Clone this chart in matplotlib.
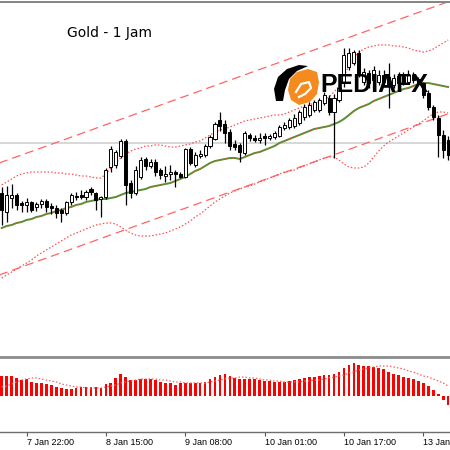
import matplotlib
matplotlib.use('Agg')
import matplotlib.pyplot as plt
import numpy as np
from matplotlib.patches import Polygon

# hourly gold candles, one per bar (prices)
opens = [1540.7, 1538.8, 1540.2, 1540.5, 1539.7, 1539.5, 1539.8, 1539.3, 1539.6, 1539.9,
         1539.4, 1539.2, 1539.0, 1538.7, 1539.8, 1540.4, 1540.5, 1540.3, 1541.1, 1540.7,
         1540.1, 1540.3, 1543.3, 1543.5, 1544.4, 1545.9, 1541.7, 1540.7, 1542.3, 1544.1,
         1543.4, 1543.8, 1543.0, 1542.4, 1542.6, 1542.8, 1542.6, 1542.3, 1545.1, 1543.5,
         1544.4, 1544.5, 1545.4, 1546.1, 1548.0, 1547.6, 1546.8, 1545.6, 1545.5, 1544.7,
         1546.5, 1546.2, 1546.0, 1546.4, 1546.2, 1546.3, 1546.4, 1547.2, 1547.3, 1547.4,
         1547.7, 1548.3, 1548.5, 1549.0, 1549.0, 1549.7, 1550.2, 1548.8, 1550.0, 1551.7,
         1553.3, 1553.7, 1554.7, 1551.8, 1552.7, 1552.0, 1551.8, 1552.5, 1552.3, 1551.5,
         1551.7, 1552.4, 1551.8, 1552.5, 1552.1, 1551.7, 1550.7, 1549.3, 1548.2, 1546.5,
         1546.0]
highs = [1541.3, 1541.4, 1541.6, 1540.7, 1539.9, 1540.2, 1539.9, 1539.8, 1540.1, 1540.1,
         1539.7, 1539.5, 1539.2, 1539.9, 1540.7, 1540.8, 1541.0, 1541.0, 1541.3, 1540.8,
         1540.4, 1543.2, 1545.4, 1545.0, 1546.1, 1546.1, 1542.0, 1543.4, 1544.3, 1544.3,
         1544.1, 1544.1, 1543.2, 1543.4, 1543.5, 1543.0, 1542.8, 1545.2, 1545.3, 1544.8,
         1545.0, 1545.6, 1546.5, 1547.8, 1548.8, 1548.0, 1547.1, 1546.0, 1545.7, 1546.9,
         1546.7, 1546.5, 1546.7, 1546.7, 1546.6, 1546.9, 1547.5, 1547.8, 1548.2, 1548.6,
         1549.0, 1549.6, 1549.8, 1550.0, 1550.2, 1550.8, 1550.5, 1550.6, 1551.5, 1555.2,
         1555.2, 1555.0, 1555.0, 1553.2, 1553.0, 1553.4, 1553.0, 1553.0, 1553.7, 1552.6,
         1552.8, 1552.8, 1553.0, 1552.8, 1552.3, 1551.8, 1551.0, 1549.5, 1548.5, 1547.0,
         1546.4]
lows = [1537.5, 1537.8, 1539.2, 1539.0, 1538.8, 1538.8, 1538.8, 1538.9, 1539.2, 1538.8,
        1538.6, 1538.2, 1537.8, 1538.5, 1539.5, 1540.0, 1540.1, 1540.0, 1540.5, 1539.0,
        1538.3, 1540.1, 1542.8, 1543.2, 1544.2, 1539.5, 1540.2, 1540.5, 1542.1, 1543.0,
        1543.2, 1542.4, 1542.1, 1541.8, 1542.0, 1541.3, 1542.2, 1542.2, 1543.5, 1543.3,
        1544.2, 1544.3, 1545.2, 1546.0, 1546.9, 1545.7, 1545.0, 1545.0, 1543.8, 1544.5,
        1545.9, 1545.8, 1545.7, 1545.5, 1546.0, 1546.1, 1546.3, 1547.0, 1547.1, 1547.2,
        1547.5, 1548.0, 1548.3, 1548.8, 1548.8, 1549.5, 1548.5, 1544.2, 1549.8, 1551.3,
        1553.0, 1553.5, 1552.3, 1551.5, 1551.2, 1551.7, 1551.5, 1551.4, 1549.2, 1551.2,
        1551.4, 1551.5, 1551.6, 1551.7, 1551.5, 1550.2, 1549.0, 1548.0, 1544.3, 1544.2,
        1544.0]
closes = [1539.0, 1540.5, 1540.5, 1539.5, 1539.5, 1539.8, 1539.0, 1539.6, 1539.9, 1539.3,
          1539.2, 1538.7, 1538.7, 1539.8, 1540.5, 1540.3, 1540.3, 1540.8, 1540.8, 1540.0,
          1540.3, 1543.0, 1545.1, 1544.8, 1545.9, 1541.5, 1540.7, 1543.0, 1544.0, 1543.4,
          1543.8, 1542.8, 1542.5, 1542.6, 1542.8, 1542.6, 1542.3, 1545.1, 1543.7, 1544.5,
          1544.6, 1545.4, 1546.3, 1547.6, 1547.4, 1546.7, 1545.4, 1545.3, 1544.8, 1546.7,
          1546.2, 1546.0, 1546.2, 1546.2, 1546.4, 1546.7, 1547.3, 1547.5, 1548.0, 1548.2,
          1548.8, 1549.3, 1549.5, 1549.8, 1550.0, 1550.5, 1548.8, 1550.2, 1551.2, 1554.5,
          1554.7, 1554.8, 1552.5, 1552.8, 1551.7, 1553.0, 1552.5, 1551.8, 1551.5, 1552.2,
          1552.4, 1551.8, 1552.5, 1552.0, 1551.7, 1550.5, 1549.3, 1548.3, 1546.5, 1545.0,
          1544.5]

# moving average and bands
ma_line = [1537.2, 1537.4, 1537.5, 1537.7, 1537.8, 1538.0, 1538.1, 1538.3, 1538.4, 1538.6,
           1538.7, 1538.9, 1539.0, 1539.2, 1539.3, 1539.5, 1539.6, 1539.8, 1539.9, 1540.0,
           1540.1, 1540.1, 1540.2, 1540.3, 1540.5, 1540.7, 1540.8, 1540.9, 1541.0, 1541.1,
           1541.3, 1541.4, 1541.5, 1541.6, 1541.7, 1541.9, 1542.1, 1542.3, 1542.6, 1542.9,
           1543.1, 1543.4, 1543.7, 1543.9, 1544.0, 1544.1, 1544.2, 1544.2, 1544.1, 1544.3,
           1544.5, 1544.7, 1544.8, 1545.0, 1545.2, 1545.4, 1545.7, 1545.9, 1546.1, 1546.3,
           1546.5, 1546.7, 1546.9, 1547.1, 1547.2, 1547.3, 1547.4, 1547.6, 1547.8, 1548.1,
           1548.5, 1548.9, 1549.2, 1549.4, 1549.6, 1549.9, 1550.1, 1550.3, 1550.5, 1550.7,
           1550.9, 1551.1, 1551.2, 1551.4, 1551.6, 1551.7, 1551.7, 1551.6, 1551.5, 1551.4,
           1551.3]
band_upper = [1541.5, 1541.8, 1542.1, 1542.4, 1542.6, 1542.7, 1542.8, 1542.8, 1542.8, 1542.8,
              1542.8, 1542.7, 1542.7, 1542.6, 1542.6, 1542.5, 1542.4, 1542.4, 1542.3, 1542.2,
              1542.2, 1542.6, 1543.2, 1543.7, 1544.2, 1544.6, 1544.9, 1545.1, 1545.2, 1545.4,
              1545.4, 1545.5, 1545.5, 1545.4, 1545.3, 1545.3, 1545.4, 1545.5, 1545.6, 1545.8,
              1545.9, 1546.2, 1546.5, 1546.8, 1547.0, 1547.1, 1547.3, 1547.5, 1547.7, 1547.9,
              1548.0, 1548.1, 1548.2, 1548.3, 1548.4, 1548.5, 1548.5, 1548.6, 1548.8, 1549.0,
              1549.2, 1549.4, 1549.5, 1549.7, 1549.8, 1550.0, 1550.3, 1550.8, 1551.4, 1552.4,
              1553.4, 1554.2, 1554.8, 1555.1, 1555.3, 1555.4, 1555.5, 1555.5, 1555.5, 1555.4,
              1555.4, 1555.3, 1555.2, 1555.0, 1554.9, 1554.8, 1554.9, 1555.1, 1555.4, 1555.7,
              1556.0]
band_lower = [1532.2, 1532.5, 1532.8, 1533.1, 1533.4, 1533.7, 1534.0, 1534.4, 1534.7, 1535.0,
              1535.3, 1535.6, 1535.9, 1536.2, 1536.5, 1536.7, 1536.9, 1537.1, 1537.3, 1537.5,
              1537.6, 1537.7, 1537.7, 1537.6, 1537.3, 1537.0, 1536.7, 1536.5, 1536.4, 1536.4,
              1536.4, 1536.5, 1536.6, 1536.7, 1536.9, 1537.1, 1537.3, 1537.6, 1537.9, 1538.3,
              1538.6, 1539.0, 1539.4, 1539.8, 1540.1, 1540.4, 1540.7, 1540.9, 1541.1, 1541.3,
              1541.4, 1541.6, 1541.8, 1542.0, 1542.2, 1542.4, 1542.6, 1542.8, 1542.9, 1543.0,
              1543.2, 1543.4, 1543.6, 1543.8, 1544.0, 1544.2, 1544.3, 1544.3, 1544.0, 1543.6,
              1543.3, 1543.2, 1543.2, 1543.3, 1543.7, 1544.3, 1544.9, 1545.4, 1545.8, 1546.1,
              1546.4, 1546.7, 1547.0, 1547.3, 1547.6, 1547.9, 1548.3, 1548.6, 1548.8, 1548.8,
              1548.7]

# trend channel end points (bar index, price)
chan_x = [-0.5, 91.0]
chan_upper = [1543.7, 1560.0]
chan_lower = [1532.5, 1548.8]
level_price = 1545.7

# MACD panel
macd_hist = [2.0, 2.0, 2.0, 1.8, 1.6, 1.7, 1.4, 1.3, 1.3, 1.2,
             1.1, 0.9, 0.8, 0.7, 0.7, 0.8, 0.9, 0.9, 0.9, 0.9,
             0.8, 1.2, 1.3, 1.8, 2.2, 1.9, 1.6, 1.6, 1.7, 1.7,
             1.7, 1.6, 1.4, 1.3, 1.3, 1.1, 1.3, 1.3, 1.3, 1.3,
             1.3, 1.4, 1.7, 1.9, 2.1, 2.2, 2.0, 1.8, 1.7, 1.7,
             1.7, 1.7, 1.6, 1.5, 1.5, 1.4, 1.4, 1.4, 1.5, 1.6,
             1.7, 1.8, 1.9, 1.9, 2.0, 2.1, 2.1, 2.2, 2.4, 2.8,
             3.1, 3.3, 3.1, 3.0, 3.0, 2.9, 2.8, 2.7, 2.4, 2.2,
             2.1, 1.9, 1.8, 1.7, 1.5, 1.3, 1.0, 0.6, 0.2, -0.4,
             -0.9]
macd_signal = [0.9, 1.0, 1.2, 1.4, 1.6, 1.7, 1.8, 1.8, 1.7, 1.6,
               1.5, 1.4, 1.2, 1.1, 1.0, 0.9, 0.9, 0.8, 0.8, 0.8,
               0.8, 0.9, 1.0, 1.1, 1.3, 1.4, 1.5, 1.6, 1.7, 1.7,
               1.7, 1.7, 1.6, 1.6, 1.5, 1.4, 1.4, 1.3, 1.3, 1.3,
               1.3, 1.3, 1.4, 1.5, 1.6, 1.7, 1.8, 1.8, 1.9, 1.9,
               1.8, 1.8, 1.7, 1.6, 1.6, 1.5, 1.5, 1.4, 1.4, 1.4,
               1.4, 1.5, 1.5, 1.6, 1.6, 1.7, 1.8, 1.9, 2.0, 2.1,
               2.3, 2.4, 2.6, 2.7, 2.8, 2.9, 3.0, 3.0, 3.0, 2.9,
               2.8, 2.7, 2.5, 2.4, 2.2, 2.0, 1.9, 1.7, 1.5, 1.3,
               1.0]

tick_bars = [5, 21, 37, 53, 69, 85]
tick_labels = ['7 Jan 22:00', '8 Jan 15:00', '9 Jan 08:00', '10 Jan 01:00', '10 Jan 17:00', '13 Jan 09:00']

bars = np.arange(len(opens))
o, h, l, c = map(np.array, (opens, highs, lows, closes))
up = c >= o

fig = plt.figure(figsize=(4.5, 4.5), dpi=100)
fig.patch.set_facecolor('white')
xlim = (-0.343, 90.38)

# price panel
ax = fig.add_axes([0, 1 - 355 / 450, 1, 352 / 450])
ax.set_xlim(*xlim)
ax.set_ylim(1524.5, 1559.7)
ax.axis('off')
ax.axhline(level_price, color='#d4d4d4', lw=1.3, zorder=1)
ax.plot(chan_x, chan_upper, color='#ff6464', lw=0.9, dashes=(7, 4), zorder=2)
ax.plot(chan_x, chan_lower, color='#ff6464', lw=0.9, dashes=(7, 4), zorder=2)
ax.plot(bars, band_upper, color='#ff5050', lw=0.9, ls=(0, (1.2, 1.6)), zorder=2)
ax.plot(bars, band_lower, color='#ff5050', lw=0.9, ls=(0, (1.2, 1.6)), zorder=2)
ax.plot(bars, ma_line, color='#4f9431', lw=1.4, zorder=3)
ax.plot(bars, ma_line, color='#ff4040', lw=0.7, ls=(0, (1, 2.2)), zorder=3)
ax.vlines(bars, l, h, color='black', lw=0.9, zorder=4)
ax.bar(bars, np.maximum(np.abs(c - o), 0.08), bottom=np.minimum(o, c), width=0.62,
       color=np.where(up, 'white', 'black'), edgecolor='black', lw=0.7, zorder=5)

# MACD panel
ax2 = fig.add_axes([0, 18 / 450, 1, 74 / 450])
ax2.set_xlim(*xlim)
ax2.set_ylim(-3.6, 3.8)
ax2.bar(bars, macd_hist, width=0.55, color='#ff0000', lw=0)
ax2.plot(bars, macd_signal, color='#ff6060', lw=0.9, ls=(0, (1.2, 1.6)))
for side in ['top', 'left', 'right']:
    ax2.spines[side].set_visible(False)
ax2.spines['bottom'].set_color('#6e6e6e')
ax2.spines['bottom'].set_linewidth(1.0)
ax2.set_yticks([])
ax2.set_xticks(tick_bars, tick_labels)
ax2.tick_params(axis='x', length=3, width=0.8, color='#555555', pad=1.5, labelsize=6.5)
for lab in ax2.get_xticklabels():
    lab.set_horizontalalignment('left')
    lab.set_fontfamily('Liberation Sans')

# overlay in pixel units: frame lines, title and watermark
ov = fig.add_axes([0, 0, 1, 1], zorder=10)
ov.set_xlim(0, 450)
ov.set_ylim(450, 0)
ov.axis('off')
ov.patch.set_alpha(0)
ov.plot([0, 450], [2, 2], color='#6e6e6e', lw=1.2)
ov.plot([0, 450], [356.5, 356.5], color='#8c8c8c', lw=2)
ov.text(67, 33, 'Gold - 1 Jam', fontsize=10, family='DejaVu Sans', va='center', ha='left')

orange = Polygon([(290, 79), (297, 72), (308, 69), (317, 72), (319, 82), (317, 94),
                  (310, 102), (299, 105), (291, 100), (288, 90)], closed=True,
                 facecolor='#f58a1f', edgecolor='none')
ov.add_patch(orange)
ov.plot([296, 301, 309, 311, 305, 299], [92, 84, 82, 88, 94, 97], color='white', lw=1.6)
swoosh = Polygon([(276, 101), (274, 89), (278, 77), (287, 69), (299, 65), (308, 66),
                  (297, 71), (289, 79), (285, 90), (283, 101)], closed=True,
                 facecolor='black', edgecolor='none')
ov.add_patch(swoosh)
ov.text(320, 85, 'PEDIAFX', fontsize=18, family='Liberation Sans', fontweight='bold',
        va='center', ha='left', color='black')

fig.savefig('out.png', dpi=100, facecolor='white')
